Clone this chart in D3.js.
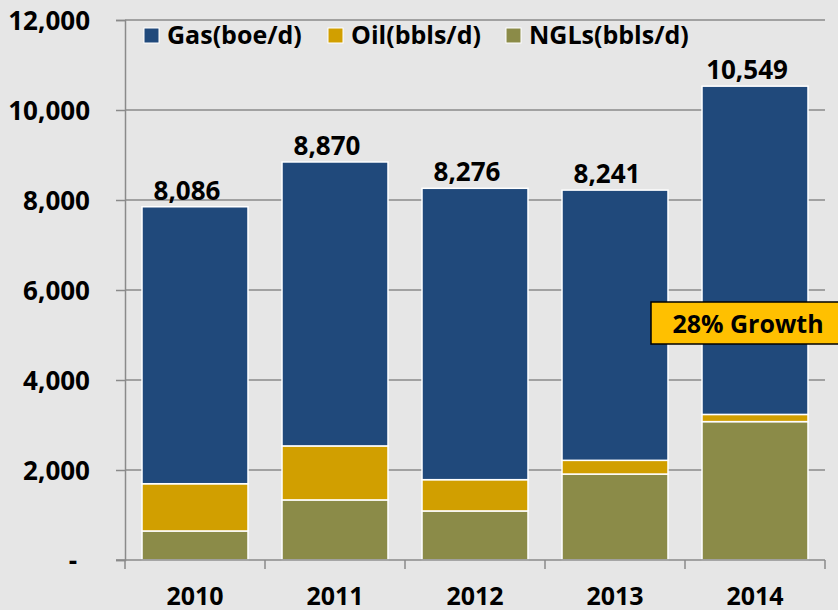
<!DOCTYPE html>
<html>
<head>
<meta charset="utf-8">
<script src="https://cdn.jsdelivr.net/npm/d3@7"></script>
<style>
  html, body { margin: 0; padding: 0; background: #e6e6e6; }
  svg { display: block; font-family: "Open Sans", Lato, sans-serif; font-weight: 700; }
</style>
</head>
<body>
<svg id="chart" width="838" height="610"></svg>
<script>
const years = ["2010", "2011", "2012", "2013", "2014"];
const ngls = [645, 1335, 1090, 1910, 3075];
const oil = [1050, 1200, 695, 305, 160];
const gas = [6155, 6310, 6475, 6005, 7295];
const totalLabels = ["8,086", "8,870", "8,276", "8,241", "10,549"];
const yTicks = [0, 2000, 4000, 6000, 8000, 10000, 12000];
const seriesNames = ["Gas(boe/d)", "Oil(bbls/d)", "NGLs(bbls/d)"];
const seriesKeys = ["gas", "oil", "ngls"];
const colors = { gas: "#20497b", oil: "#d19f00", ngls: "#8b8b48" };
const annotation = "28% Growth";

const FONT = "'Open Sans', Lato, sans-serif";
const svg = d3.select("#chart");
const W = 838, H = 610;
const m = { left: 125, right: 13, top: 20, bottom: 50 };

svg.append("rect").attr("width", W).attr("height", H).attr("fill", "#e6e6e6");

const x = d3.scaleBand().domain(years).range([m.left, W - m.right])
  .paddingInner(0.243).paddingOuter(0.1215);
const y = d3.scaleLinear().domain([0, 12000]).range([H - m.bottom, m.top]);

const axisColor = "#8a8a8a";

// gridlines
svg.append("g").selectAll("line").data(yTicks.filter(d => d > 0)).join("line")
  .attr("x1", m.left).attr("x2", W - m.right)
  .attr("y1", d => y(d)).attr("y2", d => y(d))
  .attr("stroke", axisColor).attr("stroke-width", 1.5);

// stacked data
const rows = years.map((yr, i) => ({ year: yr, ngls: ngls[i], oil: oil[i], gas: gas[i] }));
const stack = d3.stack().keys(["ngls", "oil", "gas"]);
const stacked = stack(rows);

svg.append("g").selectAll("g").data(stacked).join("g")
  .attr("fill", d => colors[d.key])
  .selectAll("rect").data(d => d).join("rect")
  .attr("x", d => x(d.data.year))
  .attr("width", x.bandwidth())
  .attr("y", d => y(d[1]))
  .attr("height", d => y(d[0]) - y(d[1]))
  .attr("stroke", "#ffffff").attr("stroke-width", 1.5);

// y axis
const yAxis = d3.axisLeft(y).tickValues(yTicks).tickSize(9).tickPadding(26)
  .tickFormat(d => d === 0 ? "-" : d3.format(",")(d));
const gy = svg.append("g").attr("transform", `translate(${m.left},0)`).call(yAxis);
gy.select(".domain").attr("stroke", axisColor).attr("stroke-width", 1.5);
gy.selectAll(".tick line").attr("stroke", axisColor).attr("stroke-width", 1.5);
gy.selectAll(".tick text").attr("fill", "#000").style("font-size", "26px")
  .style("font-family", FONT).style("font-weight", 700)
  .attr("dy", "0.38em")
  .attr("dx", d => d === 0 ? -13 : 0);

// x axis
const gx = svg.append("g").attr("transform", `translate(0,${y(0)})`);
gx.append("line").attr("x1", m.left - 9).attr("x2", W - m.right)
  .attr("stroke", axisColor).attr("stroke-width", 1.5);
const bounds = years.map(yr => x(yr) - x.step() * x.paddingInner() / 2).concat([W - m.right]);
gx.selectAll("line.tk").data(bounds).join("line").attr("class", "tk")
  .attr("x1", d => d).attr("x2", d => d).attr("y1", 0).attr("y2", 9)
  .attr("stroke", axisColor).attr("stroke-width", 1.5);
gx.selectAll("text").data(years).join("text")
  .attr("x", d => x(d) + x.bandwidth() / 2).attr("y", 45)
  .attr("text-anchor", "middle").attr("fill", "#000").style("font-size", "25px")
  .text(d => d);

// total labels
svg.append("g").selectAll("text").data(rows).join("text")
  .attr("x", d => x(d.year) + x.bandwidth() / 2 - 8)
  .attr("y", d => y(d.ngls + d.oil + d.gas) - 7)
  .attr("text-anchor", "middle").attr("fill", "#000").style("font-size", "26px")
  .text((d, i) => totalLabels[i]);

// legend
const legendX = [144, 328, 506];
const lg = svg.append("g").selectAll("g").data(seriesKeys).join("g")
  .attr("transform", (d, i) => `translate(${legendX[i]},28)`);
lg.append("rect").attr("width", 15).attr("height", 15)
  .attr("fill", d => colors[d]).attr("stroke", "#fff").attr("stroke-width", 1);
lg.append("text").attr("x", 23).attr("y", 16).attr("fill", "#000")
  .style("font-size", "25px").text((d, i) => seriesNames[i]);

// annotation box
const ann = svg.append("g").attr("transform", "translate(651,302)");
ann.append("rect").attr("width", 190).attr("height", 42)
  .attr("fill", "#ffc000").attr("stroke", "#000").attr("stroke-width", 1.5);
ann.append("text").attr("x", 97).attr("y", 31).attr("text-anchor", "middle")
  .attr("fill", "#000").style("font-size", "25px").text(annotation);
</script>
</body>
</html>
